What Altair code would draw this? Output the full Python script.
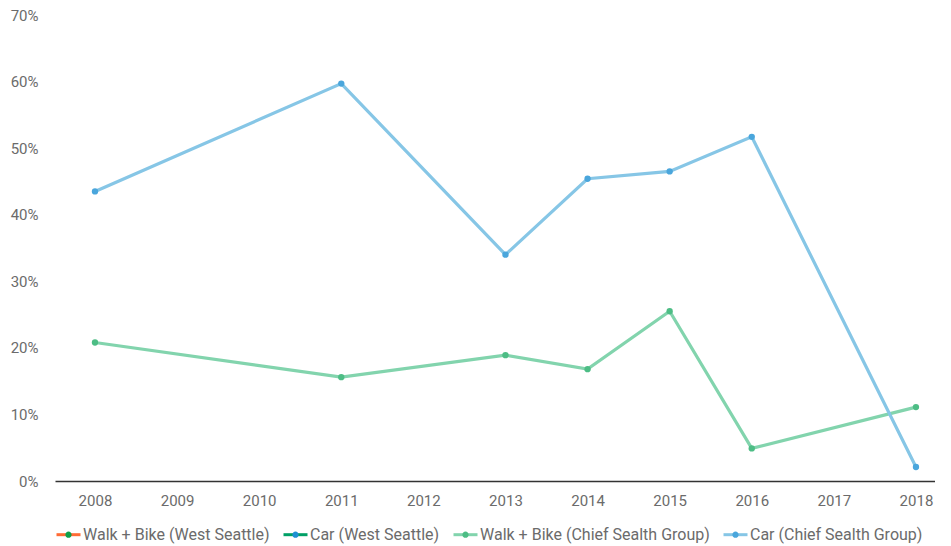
import altair as alt
import pandas as pd

years = [2008, 2009, 2010, 2011, 2012, 2013, 2014, 2015, 2016, 2017, 2018]
data_years = [2008, 2011, 2013, 2014, 2015, 2016, 2018]
walk_cs = [0.208, 0.156, 0.189, 0.168, 0.255, 0.049, 0.111]
car_cs = [0.435, 0.597, 0.340, 0.454, 0.465, 0.517, 0.021]

series_names = [
    "Walk + Bike (West Seattle)",
    "Car (West Seattle)",
    "Walk + Bike (Chief Sealth Group)",
    "Car (Chief Sealth Group)",
]
series_keys = ["k1", "k2", "k3", "k4"]
line_colors = ["#ff6b35", "#00a066", "#82d4ad", "#86c6e6"]
dot_colors = ["#0fa04a", "#1e8fd2", "#4dbd85", "#4aa6dc"]

rows = []
for y, v in zip(data_years, walk_cs):
    rows.append({"year": y, "value": v, "series": series_names[2], "key": series_keys[2]})
for y, v in zip(data_years, car_cs):
    rows.append({"year": y, "value": v, "series": series_names[3], "key": series_keys[3]})
df = pd.DataFrame(rows)

font = "Roboto"
label_color = "#6b6b6b"

label_expr = "{" + ",".join(f"'{k}':'{n}'" for k, n in zip(series_keys, series_names)) + "}[datum.label]"

legend_common = dict(
    title=None, orient="none", direction="horizontal", legendX=0, legendY=506,
    symbolSize=576, symbolStrokeWidth=3,
    labelFont=font, labelFontSize=16, labelColor=label_color,
    labelOffset=1, columnPadding=7, labelLimit=400,
)

x_enc = alt.X(
    "year:Q",
    scale=alt.Scale(domain=[2007.513, 2018.232], nice=False, zero=False),
    axis=alt.Axis(
        title=None, values=years, format="d", labelAngle=0, ticks=False, grid=False,
        domainColor="#333333", domainWidth=1.5,
        labelFont=font, labelFontSize=15, labelColor=label_color, labelPadding=12,
    ),
)
y_enc = alt.Y(
    "value:Q",
    scale=alt.Scale(domain=[0, 0.7], nice=False),
    axis=alt.Axis(
        title=None, format="%", values=[0, 0.1, 0.2, 0.3, 0.4, 0.5, 0.6, 0.7],
        ticks=False, grid=False, domain=False,
        labelFont=font, labelFontSize=15, labelColor=label_color, labelPadding=17,
    ),
)

lines = alt.Chart(df).mark_line(strokeWidth=3.2).encode(
    x=x_enc,
    y=y_enc,
    stroke=alt.Stroke(
        "series:N",
        scale=alt.Scale(domain=series_names, range=line_colors),
        legend=alt.Legend(
            symbolType="M-1,0L1,0M0,-0.26L0,-0.26M0,0.26L0,0.26",
            **legend_common,
        ),
    ),
    detail="series:N",
)

points = alt.Chart(df).mark_circle(size=40, opacity=1).encode(
    x=x_enc,
    y=y_enc,
    fill=alt.Fill(
        "key:N",
        scale=alt.Scale(domain=series_keys, range=dot_colors),
        legend=alt.Legend(
            symbolType="M-1,0L1,0M0.26,0A0.26,0.26,0,1,1,-0.26,0A0.26,0.26,0,1,1,0.26,0Z",
            symbolStrokeColor="transparent", symbolOpacity=1,
            labelExpr=label_expr, labelOpacity=0,
            **legend_common,
        ),
    ),
)

chart = (
    alt.layer(lines, points)
    .resolve_legend(stroke="independent", fill="independent")
    .properties(
        width=880,
        height=466,
        autosize=alt.AutoSizeParams(type="none"),
        padding={"left": 47, "top": 7, "right": 0, "bottom": 64},
        background="white",
    )
    .configure_view(strokeWidth=0, strokeOpacity=0)
)

chart.save("out.html", embed_options={"renderer": "svg", "actions": False})
